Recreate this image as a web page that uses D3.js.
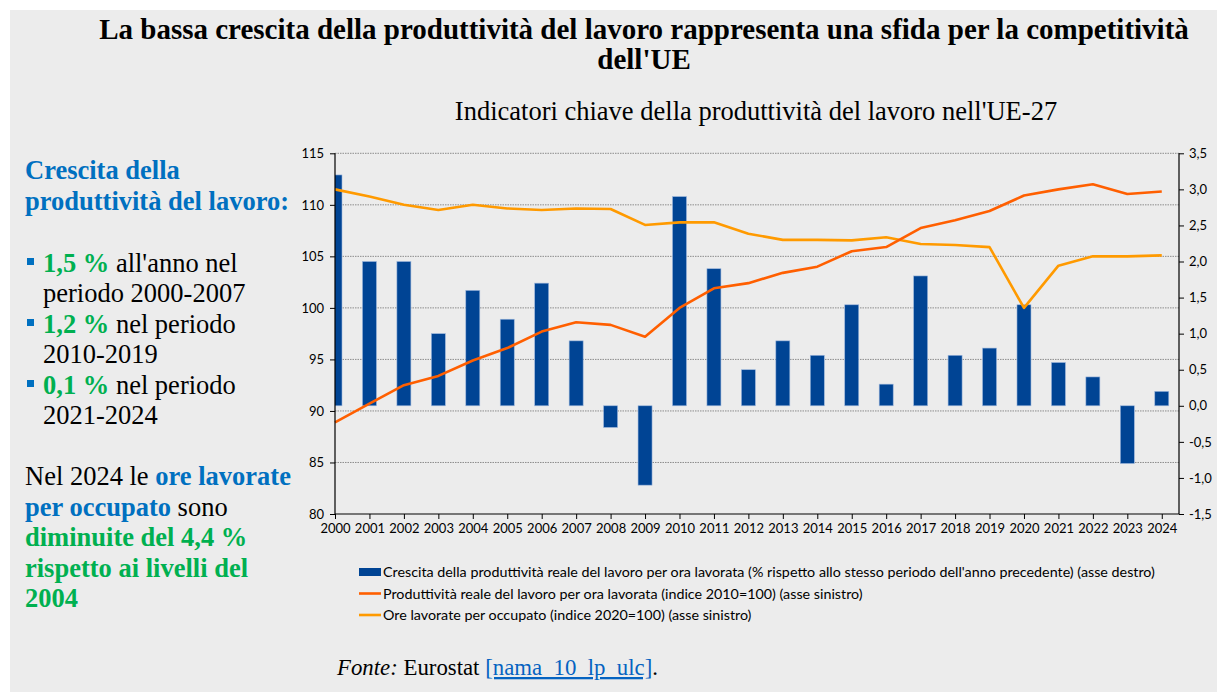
<!DOCTYPE html>
<html>
<head>
<meta charset="utf-8">
<script src="https://cdn.jsdelivr.net/npm/d3@7"></script>
<style>
  html, body { margin: 0; padding: 0; background: #ffffff; }
  svg { display: block; }
</style>
</head>
<body>
<div id="chart"></div>
<script>
// data
var years = ['2000','2001','2002','2003','2004','2005','2006','2007','2008','2009','2010','2011','2012',
             '2013','2014','2015','2016','2017','2018','2019','2020','2021','2022','2023','2024'];
var growth = [3.2, 2.0, 2.0, 1.0, 1.6, 1.2, 1.7, 0.9, -0.3, -1.1, 2.9, 1.9, 0.5,
              0.9, 0.7, 1.4, 0.3, 1.8, 0.7, 0.8, 1.4, 0.6, 0.4, -0.8, 0.2];
var productivity = [88.9, 90.7, 92.5, 93.4, 94.9, 96.1, 97.7, 98.6, 98.35, 97.2, 100.0, 101.9, 102.4,
                    103.4, 104.0, 105.5, 105.9, 107.75, 108.5, 109.4, 110.9, 111.5, 112.0, 111.05, 111.3];
var hours = [111.5, 110.8, 110.0, 109.5, 110.0, 109.65, 109.5, 109.65, 109.6, 108.05, 108.3, 108.3, 107.2,
             106.6, 106.6, 106.55, 106.85, 106.2, 106.1, 105.9, 100.0, 104.1, 105.0, 105.0, 105.1];
var leftTicks = [80, 85, 90, 95, 100, 105, 110, 115];
var rightTicks = [-1.5, -1.0, -0.5, 0, 0.5, 1.0, 1.5, 2.0, 2.5, 3.0, 3.5];
var legendLabels = [
  "Crescita della produttività reale del lavoro per ora lavorata (% rispetto allo stesso periodo dell'anno precedente) (asse destro)",
  "Produttività reale del lavoro per ora lavorata (indice 2010=100) (asse sinistro)",
  "Ore lavorate per occupato (indice 2020=100) (asse sinistro)"
];

var W = 1217, H = 692;
var serif = "'Liberation Serif', 'Times New Roman', serif";
var sans = "Lato, 'Open Sans', sans-serif";
var blueTxt = '#0070c0', greenTxt = '#00b050';
var barColor = '#004494', prodColor = '#ff5f00', hoursColor = '#ff9a00';

var svg = d3.select('#chart').append('svg')
  .attr('width', W).attr('height', H);

// grey panel
svg.append('rect')
  .attr('x', 10).attr('y', 10)
  .attr('width', W - 10).attr('height', H - 10)
  .attr('fill', '#ececec');

// titles
var title = svg.append('text')
  .attr('text-anchor', 'middle')
  .style('font-family', serif)
  .style('font-weight', 'bold')
  .style('font-size', '29px')
  .attr('fill', '#000');
title.append('tspan').attr('x', 644).attr('y', 39)
  .text("La bassa crescita della produttività del lavoro rappresenta una sfida per la competitività");
title.append('tspan').attr('x', 644).attr('y', 69).text("dell'UE");

svg.append('text')
  .attr('x', 756).attr('y', 120)
  .attr('text-anchor', 'middle')
  .style('font-family', serif)
  .style('font-size', '26.5px')
  .text("Indicatori chiave della produttività del lavoro nell'UE-27");

// left side text
var side = svg.append('g')
  .style('font-family', serif)
  .style('font-size', '26.5px');

function line(y, x, parts) {
  var t = side.append('text').attr('x', x).attr('y', y);
  parts.forEach(function (p) {
    t.append('tspan')
      .attr('fill', p.c || '#000')
      .style('font-weight', p.b ? 'bold' : 'normal')
      .text(p.t);
  });
}
line(179, 25, [{t: 'Crescita della', c: blueTxt, b: true}]);
line(210, 25, [{t: 'produttività del lavoro:', c: blueTxt, b: true}]);

var bullets = [
  {y: 272, v: '1,5 %', r: " all'anno nel", r2: 'periodo 2000-2007'},
  {y: 333, v: '1,2 %', r: ' nel periodo', r2: '2010-2019'},
  {y: 394, v: '0,1 %', r: ' nel periodo', r2: '2021-2024'}
];
bullets.forEach(function (b) {
  side.append('rect')
    .attr('x', 27).attr('y', b.y - 14)
    .attr('width', 7).attr('height', 7)
    .attr('fill', blueTxt);
  line(b.y, 43, [{t: b.v, c: greenTxt, b: true}, {t: b.r}]);
  line(b.y + 30, 43, [{t: b.r2}]);
});

line(485, 25, [{t: 'Nel 2024 le '}, {t: 'ore lavorate', c: blueTxt, b: true}]);
line(516, 25, [{t: 'per occupato', c: blueTxt, b: true}, {t: ' sono'}]);
line(546, 25, [{t: 'diminuite del 4,4 %', c: greenTxt, b: true}]);
line(577, 25, [{t: 'rispetto ai livelli del', c: greenTxt, b: true}]);
line(607, 25, [{t: '2004', c: greenTxt, b: true}]);

// chart area
var x0 = 335, x1 = 1179, yTop = 153.3, yBot = 514;

var x = d3.scaleLinear().domain([0, 24.5]).range([x0, x1]);
var yL = d3.scaleLinear().domain([80, 115]).range([yBot, yTop]);
var yR = d3.scaleLinear().domain([-1.5, 3.5]).range([yBot, yTop]);

var plot = svg.append('g');

// gridlines
plot.selectAll('line.grid')
  .data(leftTicks.filter(function (d) { return d > 80; }))
  .enter().append('line')
  .attr('class', 'grid')
  .attr('x1', x0).attr('x2', x1)
  .attr('y1', function (d) { return yL(d); })
  .attr('y2', function (d) { return yL(d); })
  .attr('stroke', '#8c8c8c')
  .attr('stroke-width', 1)
  .attr('stroke-dasharray', '1.5,1');

svg.append('clipPath').attr('id', 'plotclip')
  .append('rect')
  .attr('x', x0).attr('y', yTop - 5)
  .attr('width', x1 - x0).attr('height', yBot - yTop + 10);

// bars
var bw = 14;
plot.append('g').attr('clip-path', 'url(#plotclip)')
  .selectAll('rect')
  .data(growth)
  .enter().append('rect')
  .attr('x', function (d, i) { return x(i) - bw / 2; })
  .attr('width', bw)
  .attr('y', function (d) { return yR(Math.max(0, d)); })
  .attr('height', function (d) { return Math.abs(yR(d) - yR(0)); })
  .attr('fill', barColor)
  .attr('stroke', '#9db7dc')
  .attr('stroke-width', 0.6);

// lines
var lineGen = d3.line()
  .x(function (d, i) { return x(i); })
  .y(function (d) { return yL(d); });

plot.append('path').datum(hours)
  .attr('d', lineGen)
  .attr('fill', 'none')
  .attr('stroke', hoursColor)
  .attr('stroke-width', 2.6)
  .attr('stroke-linejoin', 'round');

plot.append('path').datum(productivity)
  .attr('d', lineGen)
  .attr('fill', 'none')
  .attr('stroke', prodColor)
  .attr('stroke-width', 2.6)
  .attr('stroke-linejoin', 'round');

// axes
var fmtR = function (d) { return d3.format('.1f')(d).replace('.', ',').replace('−', '-'); };

var axL = svg.append('g')
  .attr('transform', 'translate(' + x0 + ',0)')
  .call(d3.axisLeft(yL).tickValues(leftTicks).tickSize(5).tickPadding(6));

var axR = svg.append('g')
  .attr('transform', 'translate(' + x1 + ',0)')
  .call(d3.axisRight(yR).tickValues(rightTicks).tickSize(5).tickPadding(5).tickFormat(fmtR));

var axX = svg.append('g')
  .attr('transform', 'translate(0,' + yBot + ')')
  .call(d3.axisBottom(x).tickValues(d3.range(years.length)).tickSize(5).tickPadding(5)
    .tickFormat(function (i) { return years[i]; }));

[axL, axR, axX].forEach(function (a) {
  a.select('.domain').attr('stroke', '#000').attr('stroke-width', 1.2);
  a.selectAll('.tick line').attr('stroke', '#000');
  a.selectAll('.tick text')
    .style('font-family', sans)
    .style('font-size', '13px')
    .attr('fill', '#000');
});
axX.select('.domain').attr('d', 'M' + x0 + ',0H' + x1);
axL.select('.domain').attr('d', 'M0,' + yTop + 'V' + yBot);
axR.select('.domain').attr('d', 'M0,' + yTop + 'V' + yBot);

// legend
var leg = svg.append('g').attr('transform', 'translate(359,572)');
legendLabels.forEach(function (lbl, i) {
  var g = leg.append('g').attr('transform', 'translate(0,' + (i * 21.5) + ')');
  if (i === 0) {
    g.append('rect').attr('x', 0).attr('y', -4).attr('width', 22).attr('height', 8).attr('fill', barColor);
  } else {
    g.append('line').attr('x1', 0).attr('x2', 22).attr('y1', 0).attr('y2', 0)
      .attr('stroke', i === 1 ? prodColor : hoursColor).attr('stroke-width', 2.6);
  }
  g.append('text')
    .attr('x', 24).attr('y', 5)
    .style('font-family', sans)
    .style('font-size', '14.3px')
    .text(lbl);
});

// source
var src = svg.append('text')
  .attr('x', 337).attr('y', 675)
  .style('font-family', serif)
  .style('font-size', '22.8px');
src.append('tspan').style('font-style', 'italic').text('Fonte:');
src.append('tspan').text(' Eurostat ');
src.append('tspan').attr('fill', '#0563c1').style('text-decoration', 'underline').text('[nama_10_lp_ulc]');
src.append('tspan').text('.');
</script>
</body>
</html>
